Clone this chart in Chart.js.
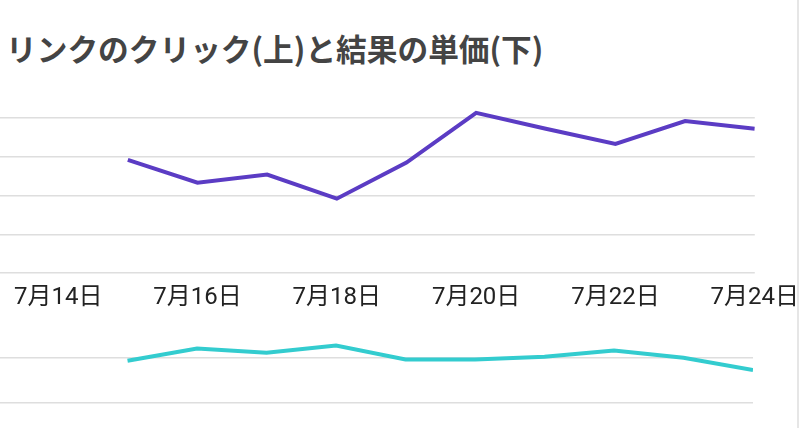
<!DOCTYPE html>
<html>
<head>
<meta charset="utf-8">
<script src="https://cdn.jsdelivr.net/npm/chart.js@4"></script>
<style>
  html, body { margin: 0; padding: 0; background: #fff; }
  body { width: 800px; height: 440px; position: relative; overflow: hidden; }
  #title {
    position: absolute; left: 6px; top: 30px;
    font: bold 30.7px "Noto Sans CJK JP", sans-serif;
    line-height: 36px; color: #444; white-space: nowrap;
  }
  #top { position: absolute; left: 0; top: 80px; width: 809px; height: 242px; }
  #bottom { position: absolute; left: 0; top: 320px; width: 796px; height: 120px; }
  #edge { position: absolute; left: 797px; top: 0; width: 2px; height: 428px; background: #e6e6e6; }
</style>
</head>
<body>
<div id="title">リンクのクリック(上)と結果の単価(下)</div>
<div id="top"><canvas id="clicksChart"></canvas></div>
<div id="bottom"><canvas id="costChart"></canvas></div>
<div id="edge"></div>
<script>
// days of July
const days = [15, 16, 17, 18, 19, 20, 21, 22, 23, 24];
const clicks = [29.2, 23.3, 25.4, 19.2, 28.5, 41.3, 37.2, 33.3, 39.2, 37.2];
const costPerResult = [93, 120, 111, 127, 96, 96, 102, 116, 100, 73];
const tickDays = [14, 16, 18, 20, 22, 24];
const clickGrid = [0, 10, 20, 30, 40];
const costGrid = [0, 100];

const gridColor = '#dedede';
const fontFamily = "Roboto, 'Noto Sans CJK JP', sans-serif";

function xScale(showLabels) {
  return {
    type: 'linear',
    min: 13.165,
    max: 24,
    display: showLabels,
    afterBuildTicks: (scale) => { scale.ticks = tickDays.map(v => ({ value: v })); },
    grid: { display: false, drawTicks: false },
    border: { display: false },
    ticks: {
      padding: 10,
      maxRotation: 0,
      autoSkip: false,
      color: '#222',
      font: { family: fontFamily, size: 24 },
      callback: (v) => '7月' + v + '日'
    }
  };
}

function yScale(max, gridValues) {
  return {
    min: 0,
    max: max,
    afterBuildTicks: (scale) => { scale.ticks = gridValues.map(v => ({ value: v })); },
    grid: { color: gridColor, lineWidth: 1.5, drawTicks: false },
    border: { display: false },
    ticks: { display: false }
  };
}

function lineChart(id, values, color, yMax, gridValues, showLabels, padding) {
  return new Chart(document.getElementById(id), {
    type: 'line',
    data: {
      datasets: [{
        data: days.map((d, i) => ({ x: d, y: values[i] })),
        borderColor: color,
        backgroundColor: color,
        borderWidth: 4,
        pointRadius: 0,
        tension: 0
      }]
    },
    options: {
      responsive: true,
      maintainAspectRatio: false,
      animation: false,
      layout: { padding: padding },
      plugins: { legend: { display: false }, tooltip: { enabled: false } },
      scales: {
        x: xScale(showLabels),
        y: yScale(yMax, gridValues)
      }
    }
  });
}

lineChart('clicksChart', clicks, '#5b3cc4', 44, clickGrid, true, { top: 22.4, bottom: 0, left: 0, right: 0 });
lineChart('costChart', costPerResult, '#33cccf', 150, costGrid, false, { top: 15, bottom: 37, left: 0, right: 43 });
</script>
</body>
</html>
